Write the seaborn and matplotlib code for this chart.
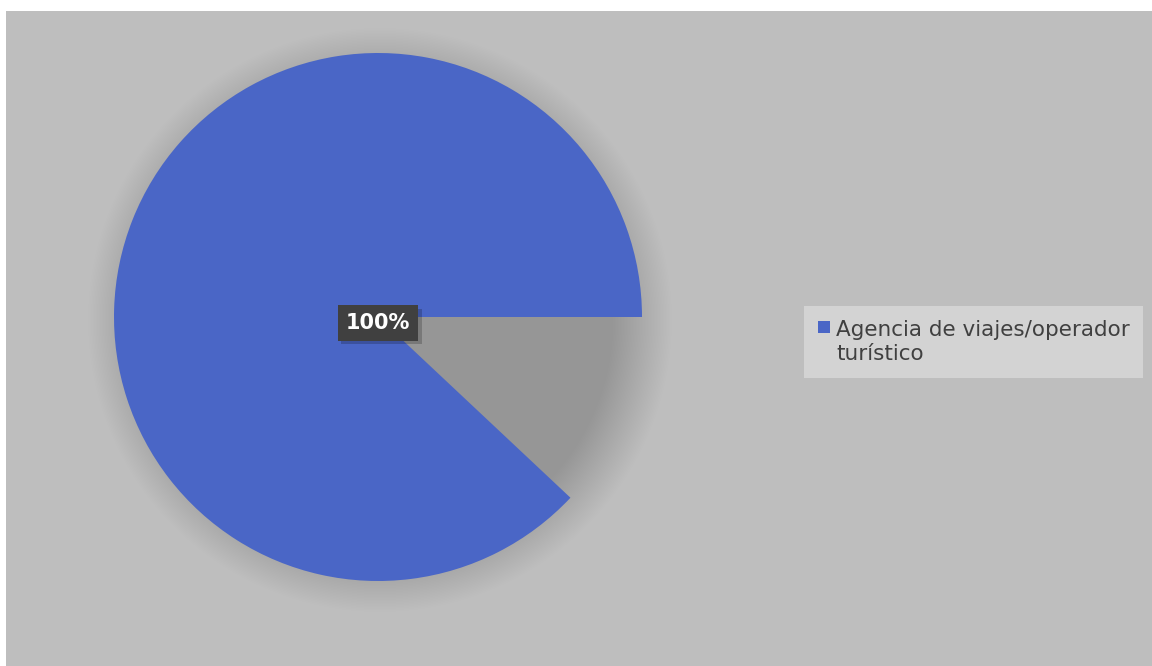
"""
Grafico a torta: tipo di intermediario (quota unica al 100%).
"""

import matplotlib

matplotlib.use("Agg")
import matplotlib.patheffects as pe
import matplotlib.pyplot as plt
import numpy as np
import seaborn as sns
from matplotlib.patches import Circle, Rectangle

# Dati
categories = ["Agencia de viajes/operador turístico", ""]
shares = [88, 12]  # la seconda fetta e' vuota (solo ombra visibile)
pct_labels = ["100%"]
legend_labels = ["Agencia de viajes/operador\nturístico"]

BLUE = "#4a66c6"
BG = "#bebebe"

sns.set_theme(style="white")
plt.rcParams["font.family"] = ["DejaVu Sans"]

W, H = 1152, 666
fig = plt.figure(figsize=(W / 100, H / 100), dpi=100, facecolor="white")
ax = fig.add_axes([0, 0, 1, 1])

# coordinate in pixel (y verso l'alto)
cx, cy, r = 378, H - 317, 264

# Sfondo grigio dell'area grafico
ax.add_patch(Rectangle((6, 0), W - 6, H - 11, facecolor=BG, edgecolor="none", zorder=0))

# Ombra sfumata dietro la torta
n_steps = 40
for k in range(n_steps):
    rad = r + 28 - k * 1.5
    ax.add_patch(Circle((cx + 2, cy - 3), rad, facecolor="black", edgecolor="none",
                        alpha=0.0055, zorder=1))

wedges, _ = ax.pie(
    shares,
    colors=[BLUE, "none"],
    startangle=0,
    counterclock=True,
    center=(cx, cy),
    radius=r,
    wedgeprops={"linewidth": 0, "zorder": 2},
)
wedges[1].set_visible(False)
for w in wedges:
    w.set_zorder(2)

# Etichetta dati (con ombra leggera sul riquadro)
lbl = ax.text(
    cx, cy - 6, pct_labels[0],
    ha="center", va="center", color="white", fontsize=15, fontweight="bold",
    bbox=dict(boxstyle="square,pad=0.38", facecolor="#404040", edgecolor="none"),
    zorder=5,
)
lbl.get_bbox_patch().set_path_effects(
    [pe.SimplePatchShadow(offset=(2.5, -2.5), shadow_rgbFace="black", alpha=0.2), pe.Normal()]
)

# Legenda disegnata a mano
ax.add_patch(Rectangle((804, H - 378), 339, 72, facecolor="#d3d3d3", edgecolor="none", zorder=3))
ax.add_patch(Rectangle((818, H - 333), 12, 12, facecolor=BLUE, edgecolor="none", zorder=4))
ax.text(836, H - 342, legend_labels[0], ha="left", va="center", color="#404040",
        fontsize=15.5, linespacing=1.3, zorder=4)

ax.set_xlim(0, W)
ax.set_ylim(0, H)
ax.set_aspect("auto")
ax.axis("off")

fig.savefig("out.png", dpi=100, facecolor="white")
